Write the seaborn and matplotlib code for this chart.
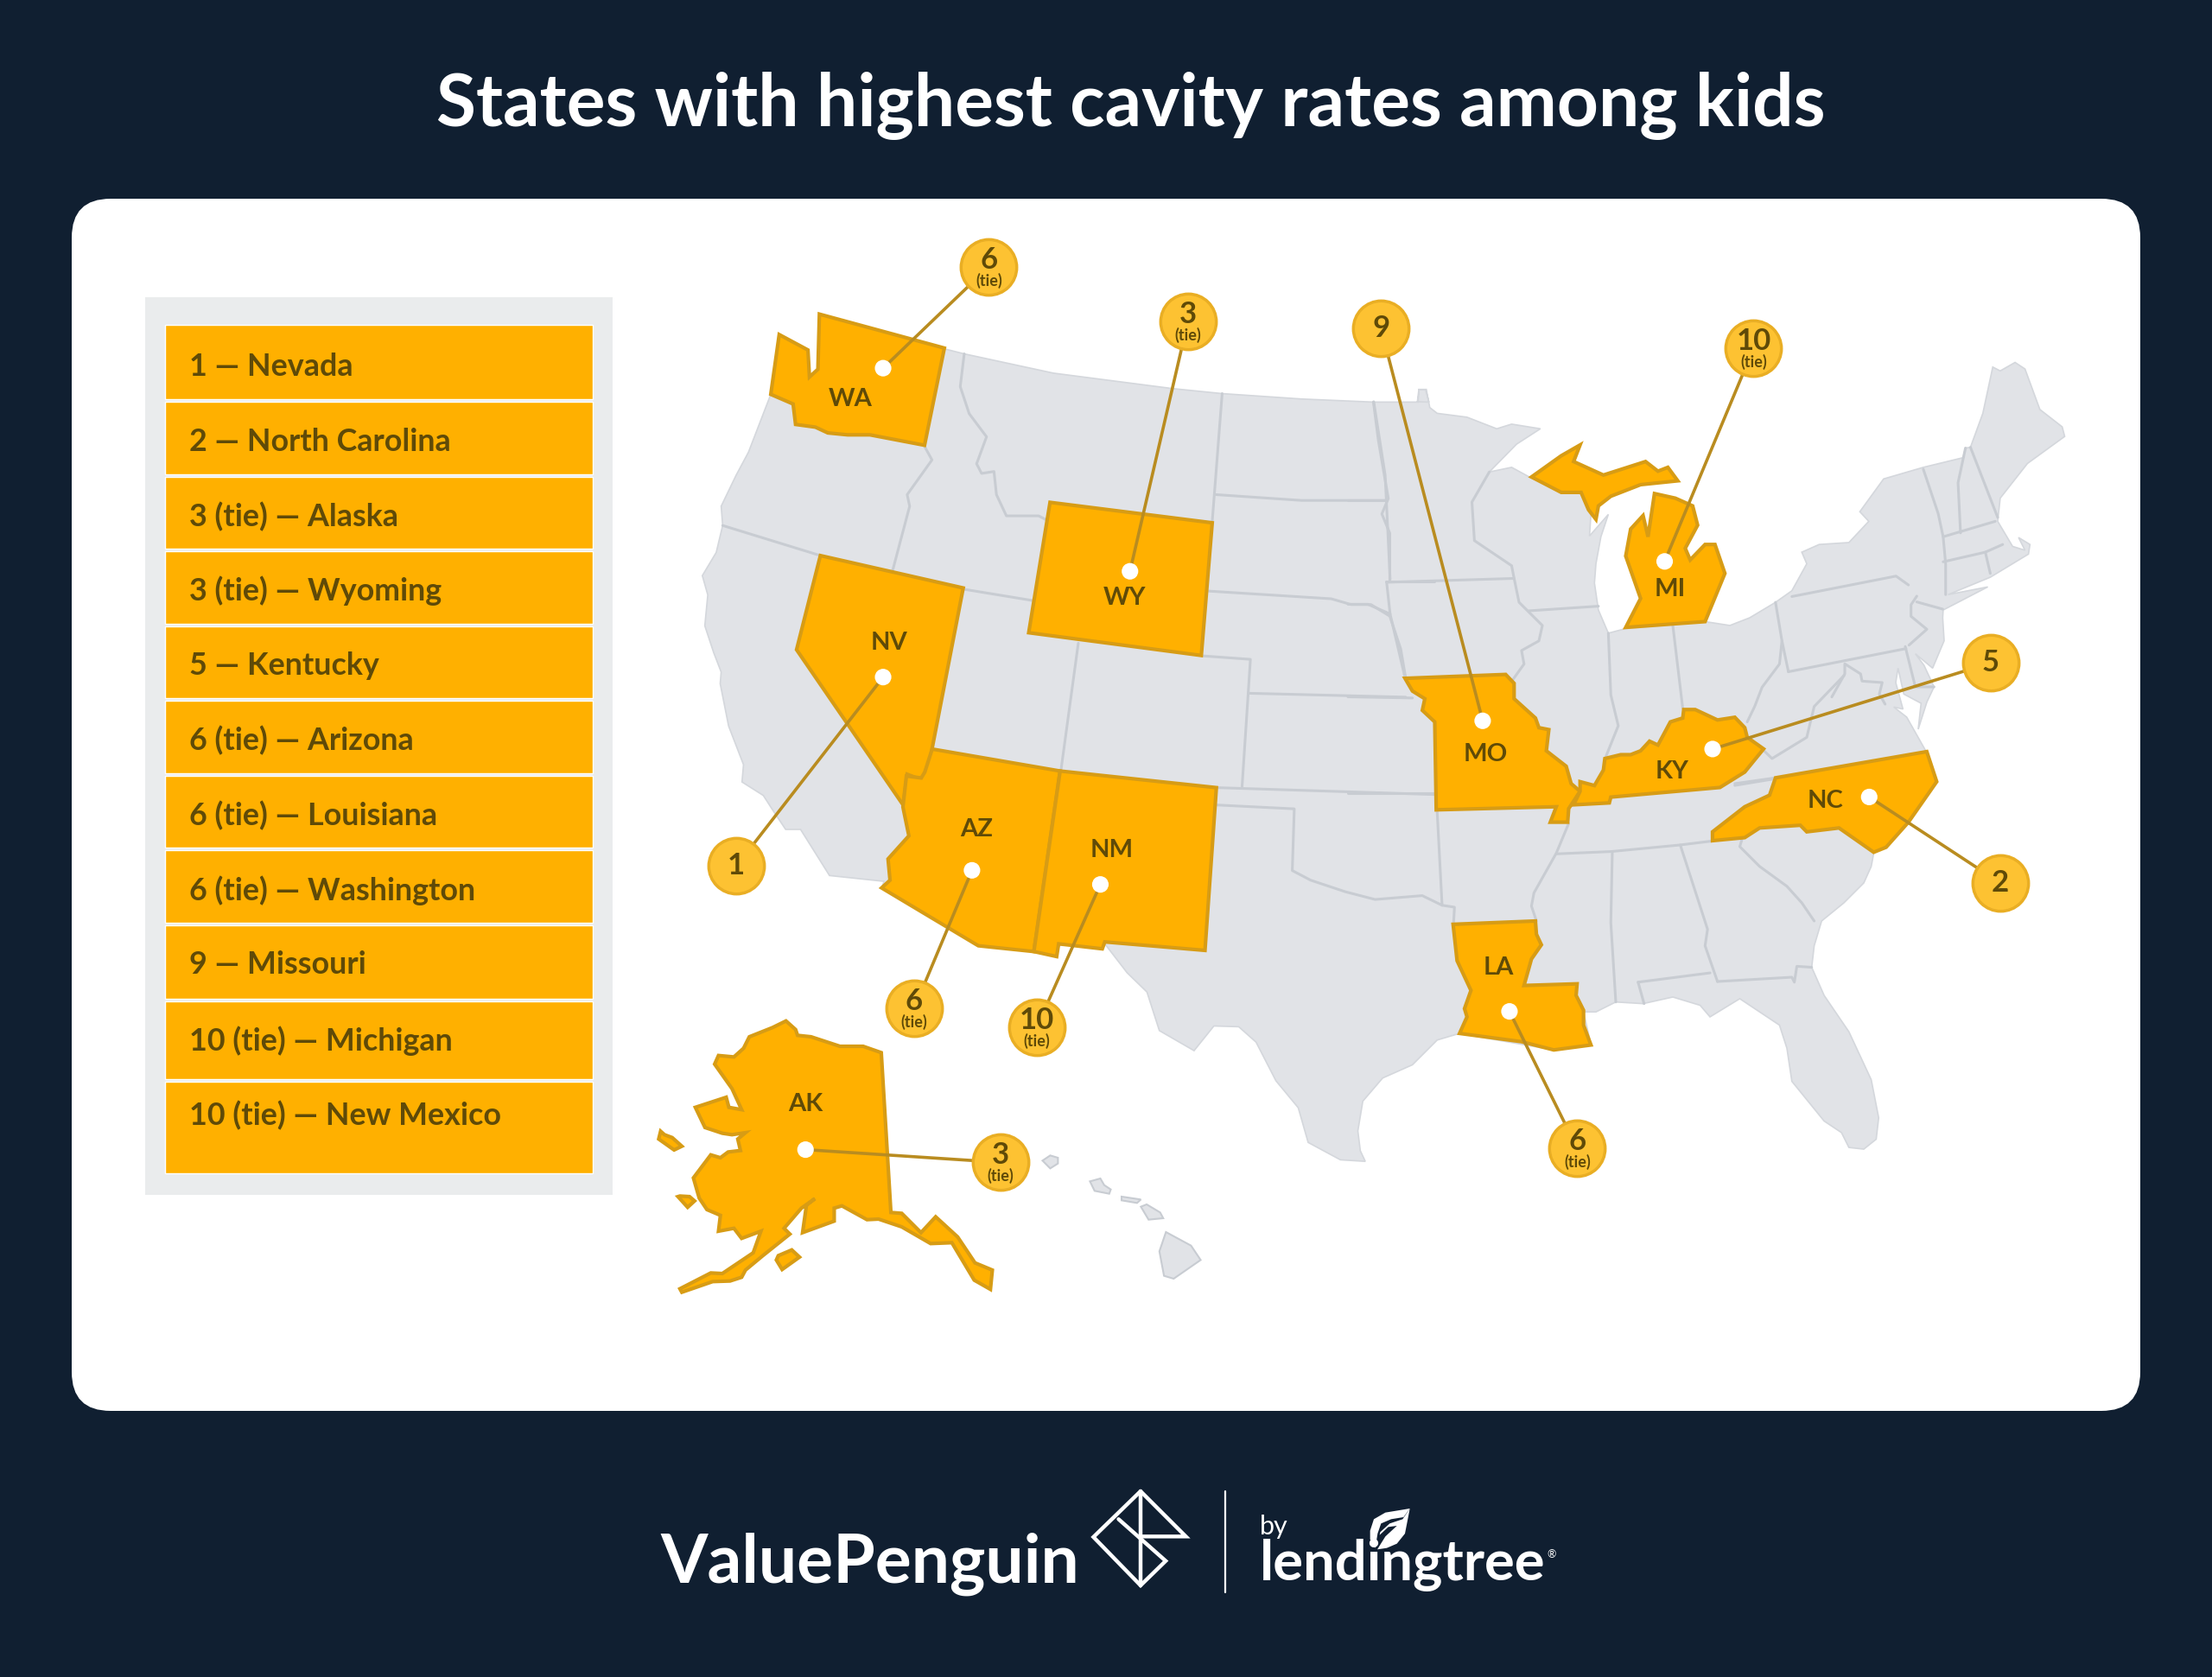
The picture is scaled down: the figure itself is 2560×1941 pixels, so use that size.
import numpy as np
import pandas as pd
import seaborn as sns
import matplotlib.pyplot as plt
from matplotlib.patches import FancyBboxPatch, Polygon, Rectangle

sns.set_theme(style='white')
plt.rcParams['font.family'] = ['Lato', 'DejaVu Sans']

# legend
legend_rows = ['1 — Nevada', '2 — North Carolina', '3 (tie) — Alaska', '3 (tie) — Wyoming',
               '5 — Kentucky', '6 (tie) — Arizona', '6 (tie) — Louisiana', '6 (tie) — Washington',
               '9 — Missouri', '10 (tie) — Michigan', '10 (tie) — New Mexico']
row_tops = [230, 285, 338, 391, 444, 497, 550, 603, 656, 710, 767]
row_bottoms = [283, 336, 389, 442, 495, 548, 601, 654, 708, 765, 832]
row_text_y = [260, 313, 366, 419, 472, 525, 578, 631, 684, 738, 791]

# callouts, in the 1568 wide layout
codes = ['WA', 'WY', 'NV', 'MI', 'MO', 'KY', 'NC', 'AZ', 'NM', 'LA', 'AK']
ranks = ['6', '3', '1', '10', '9', '5', '2', '6', '10', '6', '3']
ties = [True, True, False, True, False, False, False, True, True, True, True]
pin_x = [626, 801, 626, 1180, 1051, 1214, 1325, 689, 780, 1070, 571]
pin_y = [261, 405, 480, 398, 511, 531, 565, 617, 627, 717, 815]
badge_x = [701, 842, 522, 1243, 979, 1411, 1418, 648, 735, 1118, 709]
badge_y = [189, 228, 614, 247, 233, 470, 626, 715, 728, 814, 824]
code_x = [603, 797, 630, 1184, 1053, 1185, 1294, 692, 788, 1062, 571]
code_y = [283, 424, 456, 418, 535, 547, 568, 588, 603, 686, 783]

C1 = (760, 260, 1.742, 2.24)
C2 = (1560, 340, 1.742, 2.24)
C3 = (960, 800, 1.742, 2.24)
C4 = (1560, 800, 1.742, 2.613)
C5 = (740, 1150, 2.24, 3.0)
C6 = (720, 1680, 1.375, 3.0)
C7 = (2120, 690, 3.0, 3.0)
C8 = (1440, 1730, 3.0, 3.0)


def traced(crop, pts):
    pts = np.array(pts, dtype=float)
    return np.column_stack([crop[0] + pts[:, 0] / crop[2], crop[1] + pts[:, 1] / crop[3]])


land = np.vstack([
    traced(C1, [(500, 400), (580, 322), (620, 335), (800, 385), (1040, 425), (1140, 438), (1300, 452),
                (1445, 460), (1535, 460), (1537, 428), (1550, 428), (1557, 460)]),
    traced(C2, [(140, 280), (143, 248), (158, 248), (165, 295), (180, 310), (240, 320), (300, 350), (330, 338),
                (388, 350), (340, 390), (285, 462), (330, 450), (370, 478), (430, 510), (470, 515), (490, 570),
                (487, 628), (525, 572), (510, 630), (500, 700), (497, 750), (505, 820), (525, 880), (560, 868),
                (720, 850), (770, 860), (810, 840), (862, 800), (895, 770), (925, 700), (915, 670), (950, 650),
                (1010, 645), (1050, 590), (1032, 565), (1080, 480), (1160, 450), (1240, 425), (1245, 400),
                (1255, 398), (1280, 310), (1300, 190), (1315, 200), (1345, 178), (1365, 195), (1395, 300),
                (1440, 345), (1445, 370), (1370, 440), (1315, 530), (1310, 590), (1340, 655), (1365, 665),
                (1352, 632), (1375, 650), (1372, 675), (1295, 735), (1210, 780), (1290, 760), (1200, 820)]),
    traced(C7, [(385, 75), (390, 155), (350, 250), (290, 200), (320, 240), (355, 315), (330, 368), (300, 462),
                (310, 372), (250, 340), (230, 250), (222, 300), (247, 392), (215, 385), (260, 420), (325, 535)]),
    traced(C4, [(1060, 490), (1055, 530), (1040, 580), (1000, 640), (955, 695), (940, 770), (935, 835), (960, 920),
                (1010, 1030), (1055, 1175), (1070, 1290), (1065, 1355), (1040, 1385), (1010, 1380), (995, 1335),
                (960, 1300), (895, 1180), (885, 1080), (870, 1010), (790, 930), (730, 985), (710, 950), (655, 925),
                (595, 945), (540, 940), (500, 970), (475, 970), (490, 1070), (415, 1085), (225, 1035), (180, 1055),
                (130, 1130), (70, 1170), (30, 1240), (20, 1330), (25, 1390), (35, 1422)]),
    traced(C3, [(1030, 1215), (965, 1170), (945, 1080), (900, 1010), (860, 910), (825, 870), (775, 868), (735, 932),
                (665, 880), (640, 780), (600, 730), (555, 655), (450, 660), (300, 660), (105, 510), (110, 493),
                (0, 478)]),
    traced(C1, [(290, 1568), (260, 1568), (235, 1520), (215, 1480), (172, 1445), (175, 1400), (145, 1300),
                (128, 1190), (130, 1160), (115, 1110), (97, 1040), (103, 960), (92, 910), (120, 850), (133, 780),
                (130, 730), (160, 650), (185, 590), (215, 490), (230, 440)]),
])

islands = [
    traced(C5, [(1045, 580), (1065, 562), (1085, 570), (1085, 590), (1065, 607)]),
    traced(C5, [(1168, 652), (1195, 642), (1205, 665), (1222, 680), (1218, 695), (1180, 685)]),
    traced(C5, [(1250, 705), (1300, 715), (1290, 727), (1250, 718)]),
    traced(C5, [(1300, 740), (1315, 732), (1350, 760), (1358, 780), (1320, 785)]),
    traced(C5, [(1365, 828), (1430, 875), (1455, 925), (1385, 990), (1360, 980), (1348, 895)]),
]

borders = [
    traced(C1, [(620, 335), (612, 420), (630, 490), (665, 550), (645, 620), (655, 645), (680, 640), (685, 700),
                (705, 755), (770, 755), (785, 765)]),
    traced(C1, [(540, 575), (555, 610), (505, 700), (510, 730), (475, 900)]),
    traced(C1, [(133, 780), (330, 858)]),
    traced(C1, [(618, 945), (760, 975)]),
    traced(C1, [(850, 1085), (815, 1415)]),
    traced(C1, [(1140, 438), (1120, 770)]),
    traced(C1, [(1128, 700), (1300, 715), (1472, 715)]),
    traced(C1, [(1445, 460), (1455, 560), (1475, 710), (1462, 750), (1478, 800), (1478, 925)]),
    traced(C1, [(1112, 950), (1360, 970), (1400, 985), (1440, 985), (1478, 1015), (1500, 1100), (1510, 1175)]),
    traced(C1, [(1470, 925), (1568, 925)]),
    traced(C1, [(1100, 1118), (1197, 1127), (1180, 1460)]),
    traced(C1, [(1195, 1215), (1510, 1225)]),
    traced(C3, [(780, 250), (1222, 268)]),
    traced(C3, [(780, 295), (937, 305), (933, 465), (970, 490), (1040, 520), (1100, 540), (1195, 530), (1235, 555),
                (1260, 560), (1258, 605)]),
    traced(C3, [(1225, 310), (1235, 555)]),
    traced(C4, [(445, 400), (420, 490), (405, 530), (375, 610), (370, 650), (380, 695)]),
    traced(C4, [(420, 492), (530, 485), (670, 465), (735, 453)]),
    traced(C4, [(533, 485), (530, 700), (540, 940)]),
    traced(C4, [(670, 465), (725, 720), (720, 770), (745, 878)]),
    traced(C4, [(585, 880), (730, 852)]),
    traced(C4, [(585, 880), (597, 945)]),
    traced(C4, [(745, 878), (895, 865), (900, 880), (905, 832), (935, 835)]),
    traced(C4, [(795, 445), (790, 470), (830, 530), (885, 590), (915, 640), (940, 695)]),
    traced(C4, [(780, 285), (860, 265)]),
    traced(C2, [(52, 280), (75, 470), (85, 740)]),
    traced(C2, [(0, 535), (78, 535)]),
    traced(C2, [(78, 748), (335, 738)]),
    traced(C2, [(78, 748), (85, 830), (115, 995)]),
    traced(C2, [(0, 805), (40, 805), (85, 830)]),
    traced(C2, [(0, 1045), (130, 1048)]),
    traced(C2, [(0, 1295), (178, 1295)]),
    traced(C2, [(285, 462), (250, 540), (255, 640), (330, 705), (335, 738), (345, 800), (392, 860), (385, 900),
                (350, 925), (355, 960), (330, 1005)]),
    traced(C2, [(365, 822), (505, 810)]),
    traced(C2, [(525, 880), (530, 1040), (545, 1120), (520, 1200)]),
    traced(C2, [(655, 860), (675, 1075)]),
    traced(C2, [(862, 800), (875, 900), (888, 980)]),
    traced(C2, [(875, 900), (870, 960), (835, 1020), (820, 1070), (805, 1110)]),
    traced(C2, [(888, 980), (1125, 920)]),
    traced(C2, [(895, 785), (1105, 732), (1130, 755)]),
    traced(C7, [(268, 170), (330, 115), (275, 70), (275, 30), (295, 0)]),
    traced(C7, [(295, 20), (385, 45)]),
    traced(C2, [(1160, 455), (1190, 570), (1200, 630), (1205, 700), (1205, 780)]),
    traced(C2, [(1245, 400), (1230, 490), (1235, 620)]),
    traced(C2, [(1255, 398), (1310, 580)]),
    traced(C2, [(1200, 630), (1305, 590)]),
    traced(C2, [(1200, 695), (1285, 670), (1320, 650)]),
    traced(C2, [(1285, 670), (1295, 725)]),
    traced(C2, [(835, 1180), (855, 1205), (925, 1150), (940, 1070), (1000, 990)]),
    traced(C7, [(0, 350), (45, 270), (45, 235), (100, 270), (105, 295), (175, 300), (165, 340), (185, 375)]),
    traced(C7, [(255, 175), (290, 315), (355, 315)]),
    traced(C2, [(780, 1270), (862, 1255)]),
]

highlighted = [
    # WA
    traced(C1, [(328, 232), (580, 320), (540, 572), (430, 545), (385, 545), (345, 540), (320, 525), (280, 518),
                (275, 465), (230, 440), (247, 285), (305, 325), (308, 395), (325, 375)]),
    # WY
    traced(C1, [(793, 720), (1120, 773), (1098, 1117), (750, 1058)]),
    # NV
    traced(C1, [(330, 858), (618, 942), (555, 1360), (545, 1430), (535, 1440), (505, 1425), (497, 1505), (282, 1102)]),
    # AZ
    traced(C3, [(207, 150), (465, 207), (412, 675), (300, 660), (105, 510), (122, 490), (118, 435), (160, 375),
                (148, 300), (155, 220), (185, 225), (192, 210)]),
    # NM
    traced(C3, [(465, 207), (780, 250), (757, 672), (555, 650), (550, 668), (462, 655), (458, 688), (412, 675)]),
    # MO
    traced(C2, [(115, 997), (318, 987), (335, 1010), (335, 1050), (378, 1100), (385, 1125), (405, 1130), (400, 1185),
                (440, 1225), (450, 1270), (468, 1290), (445, 1335), (443, 1370), (408, 1370), (420, 1330), (178, 1338),
                (175, 1110), (150, 1080), (155, 1050), (130, 1030)]),
    # KY
    traced(C2, [(677, 1078), (700, 1078), (745, 1105), (780, 1098), (800, 1125), (805, 1150), (838, 1180), (800, 1240),
                (750, 1280), (530, 1305), (527, 1320), (455, 1325), (468, 1290), (468, 1265), (497, 1275), (515, 1235),
                (518, 1205), (550, 1195), (570, 1195), (590, 1185), (608, 1160), (625, 1170), (650, 1110), (675, 1100)]),
    # NC
    traced(C2, [(1167, 1187), (1187, 1265), (1130, 1370), (1085, 1435), (1060, 1448), (990, 1385), (925, 1395),
                (912, 1378), (830, 1385), (800, 1410), (735, 1418), (735, 1395), (800, 1330), (850, 1300), (862, 1255)]),
    # LA
    traced(C4, [(212, 705), (378, 695), (380, 735), (390, 767), (370, 810), (355, 890), (462, 885), (460, 920),
                (475, 965), (475, 1010), (490, 1070), (415, 1085), (350, 1060), (225, 1035), (240, 985), (235, 960),
                (248, 905), (220, 815)]),
    # MI
    traced(C2, [(468, 392), (455, 435), (515, 470), (600, 435), (625, 460), (645, 450), (665, 485), (590, 495),
                (530, 525), (505, 550), (500, 585), (485, 560), (470, 515), (430, 515), (370, 475), (430, 420)]),
    traced(C2, [(618, 518), (660, 530), (695, 550), (705, 600), (680, 660), (690, 690), (720, 650), (740, 650),
                (760, 725), (720, 850), (560, 865), (590, 790), (560, 680), (570, 610), (595, 575), (605, 630)]),
    # AK and its islands
    traced(C5, [(380, 95), (405, 125), (410, 145), (445, 150), (520, 183), (580, 183), (627, 205), (652, 760), (680, 763),
                (730, 830), (768, 775), (825, 845), (870, 935), (915, 960), (910, 1027), (868, 995), (810, 865), (755, 868),
                (680, 810), (620, 783), (590, 785), (525, 737), (505, 745), (505, 790), (423, 830), (433, 735), (455, 712),
                (420, 745), (375, 815), (390, 835), (320, 910), (275, 960), (265, 985), (235, 998), (190, 1000), (110, 1037),
                (105, 1025), (185, 970), (215, 972), (295, 900), (315, 825), (265, 850), (245, 815), (205, 825), (210, 770),
                (175, 750), (155, 710), (140, 640), (185, 560), (210, 570), (230, 550), (262, 545), (255, 505), (275, 483),
                (240, 490), (215, 485), (170, 465), (145, 395), (225, 360), (232, 395), (265, 403), (240, 330), (195, 245),
                (205, 215), (245, 220), (270, 190), (285, 150), (345, 118)]),
    traced(C5, [(55, 478), (65, 490), (85, 500), (110, 530), (90, 543), (50, 505)]),
    traced(C5, [(105, 703), (130, 705), (143, 720), (125, 742), (100, 705)]),
    traced(C5, [(360, 910), (395, 890), (415, 915), (370, 958), (355, 925)]),
]

logo_mark = traced(C6, [(825, 138), (750, 297), (825, 465), (865, 380), (790, 235)])
logo_fold = traced(C6, [(825, 138), (897, 295), (825, 295)])
logo_stem = traced(C6, [(825, 138), (825, 465)])
logo_divider = traced(C6, [(960, 138), (960, 488)])
leaf_left = traced(C8, [(575, 48), (490, 62), (450, 85), (437, 125), (437, 155), (455, 185), (463, 135), (475, 100),
                        (510, 85), (553, 78)])
leaf_right = traced(C8, [(575, 48), (558, 135), (530, 170), (495, 185), (462, 190), (490, 145), (530, 108), (500, 112),
                         (470, 140), (472, 130), (505, 100), (550, 85)])

NAVY = '#101f31'
GOLD = '#ffb000'
GOLD_EDGE = '#d79c15'
LINE = '#b98c20'
BADGE = '#fdc232'
BADGE_EDGE = '#e9ae24'
GRAY = '#e1e3e7'
GRAY_LINE = '#c8ccd2'
TEXT = '#5f4a08'
SCALE = 2560 / 1568

fig = plt.figure(figsize=(25.6, 19.41), dpi=100, facecolor=NAVY)
ax = fig.add_axes([0, 0, 1, 1])
ax.set_xlim(0, 2560)
ax.set_ylim(1941, 0)
ax.axis('off')

ax.add_patch(FancyBboxPatch((83 + 45, 230 + 45), 2394 - 90, 1403 - 90, boxstyle='round,pad=45',
                            fc='white', ec='none', zorder=1))
ax.text(1309, 122, 'States with highest cavity rates among kids', color='white', fontsize=60.4,
        fontweight='bold', ha='center', va='center', zorder=9)

# legend panel
ax.add_patch(Rectangle((103 * SCALE, 211 * SCALE), 331 * SCALE, 636 * SCALE, fc='#eaeced', ec='none', zorder=2))
for label, top, bottom, text_y in zip(legend_rows, row_tops, row_bottoms, row_text_y):
    ax.barh((top + bottom) / 2 * SCALE, 303 * SCALE, height=(bottom - top) * SCALE, left=117 * SCALE,
            color=GOLD, zorder=3)
    ax.text(134 * SCALE, text_y * SCALE, label, color=TEXT, fontsize=25.8, fontweight='bold',
            va='center', zorder=4)

# map
ax.add_patch(Polygon(land, closed=True, fc=GRAY, ec='#d4d7dc', lw=1.2, zorder=3))
for isle in islands:
    ax.add_patch(Polygon(isle, closed=True, fc=GRAY, ec=GRAY_LINE, lw=1.5, zorder=3))
for line in borders:
    ax.plot(line[:, 0], line[:, 1], color=GRAY_LINE, lw=2.2, zorder=4, solid_capstyle='round')
for shape in highlighted:
    ax.add_patch(Polygon(shape, closed=True, fc=GOLD, ec=GOLD_EDGE, lw=3, zorder=5, joinstyle='miter'))

callouts = pd.DataFrame({
    'code': codes, 'rank': ranks, 'tie': ties,
    'pin_x': np.array(pin_x) * SCALE, 'pin_y': np.array(pin_y) * SCALE,
    'badge_x': np.array(badge_x) * SCALE, 'badge_y': np.array(badge_y) * SCALE,
    'code_x': np.array(code_x) * SCALE, 'code_y': np.array(code_y) * SCALE,
})

for row in callouts.itertuples():
    ax.plot([row.pin_x, row.badge_x], [row.pin_y, row.badge_y], color=LINE, lw=2.6, zorder=6)
    ax.text(row.code_x, row.code_y, row.code, color=TEXT, fontsize=21, fontweight='bold',
            ha='center', va='center', zorder=9)
    if row.tie:
        ax.text(row.badge_x, row.badge_y - 8, row.rank, color=TEXT, fontsize=25, fontweight='bold',
                ha='center', va='center', zorder=9)
        ax.text(row.badge_x, row.badge_y + 16, '(tie)', color=TEXT, fontsize=13, fontweight='bold',
                ha='center', va='center', zorder=9)
    else:
        ax.text(row.badge_x, row.badge_y, row.rank, color=TEXT, fontsize=25, fontweight='bold',
                ha='center', va='center', zorder=9)

sns.scatterplot(data=callouts, x='pin_x', y='pin_y', color='white', s=190, edgecolor='none', zorder=8, ax=ax, legend=False)
sns.scatterplot(data=callouts, x='badge_x', y='badge_y', color=BADGE, s=2150, edgecolor=BADGE_EDGE, linewidth=2.5,
                zorder=8, ax=ax, legend=False)
ax.set_xlim(0, 2560)
ax.set_ylim(1941, 0)
ax.axis('off')

# footer logos
ax.text(764, 1810, 'ValuePenguin', color='white', fontsize=56.5, fontweight='bold', ha='left', va='center', zorder=9)
for part in (logo_mark, logo_fold, logo_stem):
    ax.plot(part[:, 0], part[:, 1], color='white', lw=3.2, zorder=9, solid_joinstyle='miter')
ax.plot(logo_divider[:, 0], logo_divider[:, 1], color='white', lw=1.6, zorder=9)
ax.text(1458, 1767, 'by', color='white', fontsize=22, ha='left', va='center', zorder=9)
ax.text(1458, 1812, 'lendingtree', color='white', fontsize=47, fontweight='bold', ha='left', va='center', zorder=9)
ax.text(1790, 1799, '®', color='white', fontsize=9, ha='left', va='center', zorder=9)
ax.add_patch(Polygon(leaf_left, closed=True, fc='white', ec='none', zorder=10))
ax.add_patch(Polygon(leaf_right, closed=True, fc='white', ec='none', zorder=10))

fig.savefig('out.png', dpi=100, facecolor=NAVY)
